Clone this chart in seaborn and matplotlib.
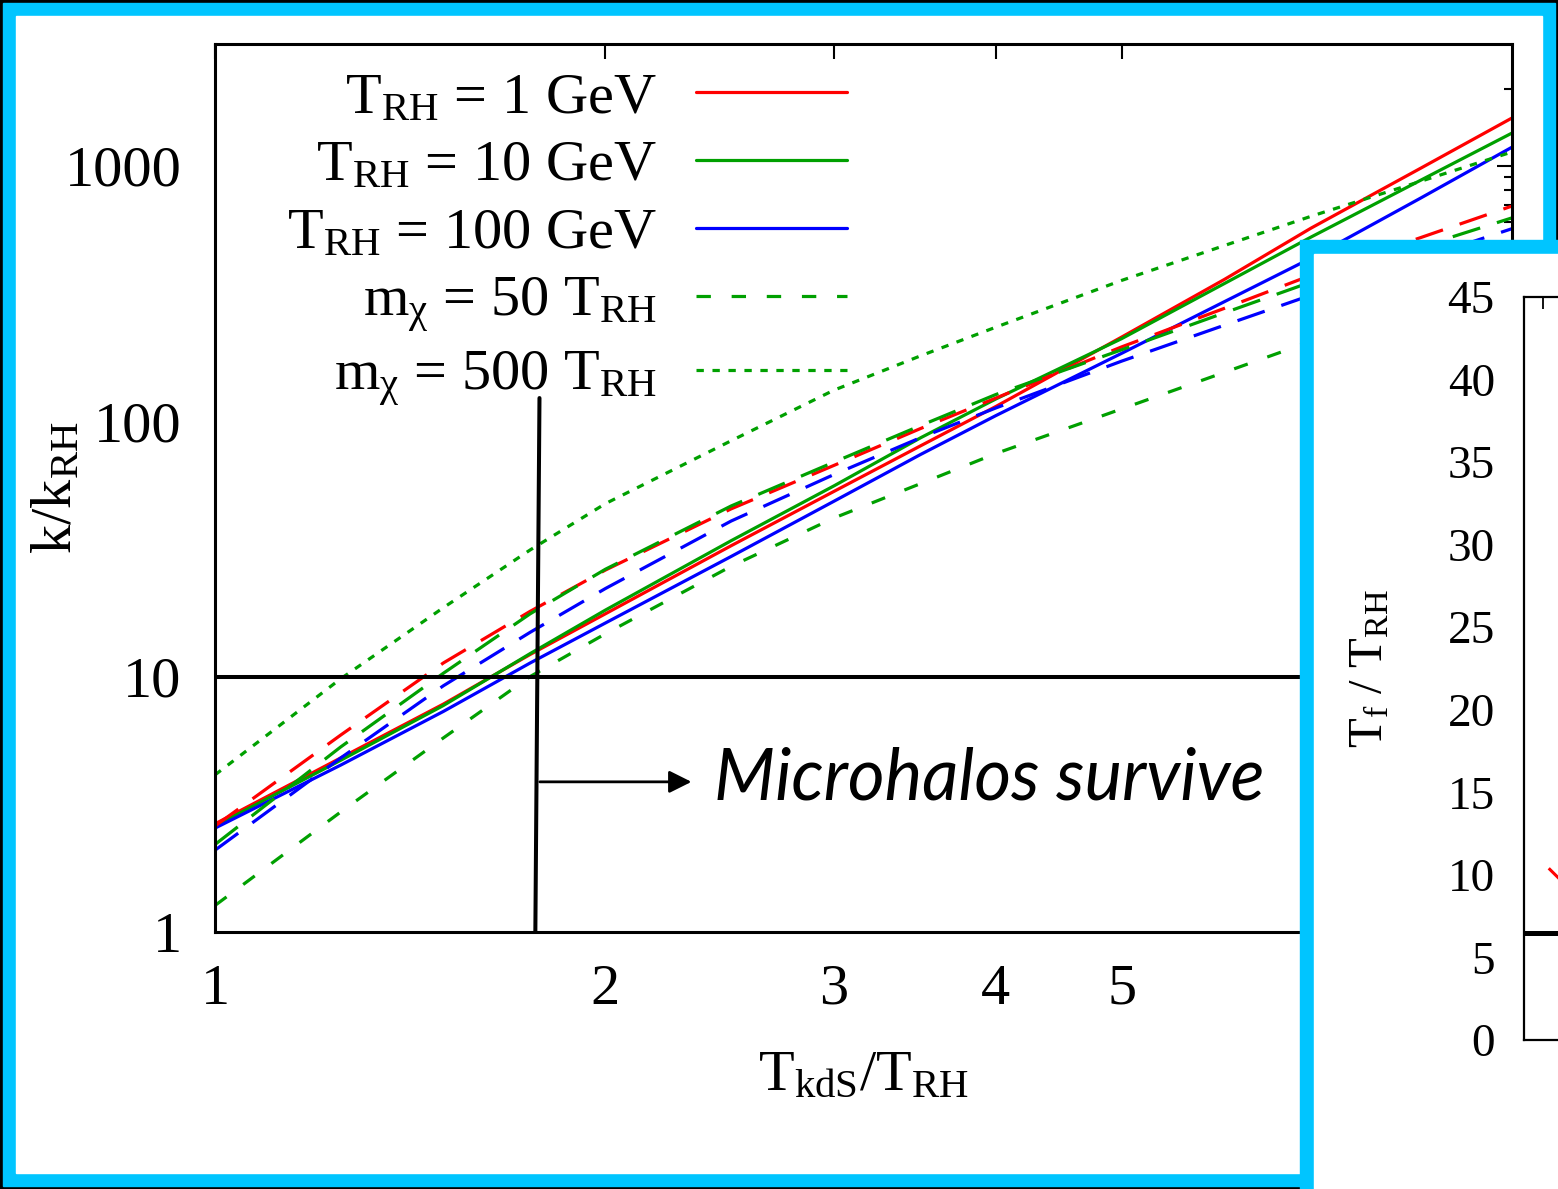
#!/usr/bin/env python3

"""Cut-off wavenumber k/k_RH versus kinetic decoupling temperature, slide style."""

import matplotlib

matplotlib.use("Agg")
import matplotlib.pyplot as plt
from matplotlib.patches import Rectangle
from matplotlib.ticker import FixedLocator, FuncFormatter, LogLocator, NullLocator
import seaborn as sns

# ---- data ---------------------------------------------------------------
T_kds = [1, 1.25, 1.5, 1.75, 2, 2.5, 3, 3.5, 4, 5, 6, 7, 8.5, 10]
k_1gev = [2.65, 4.8, 7.8, 12.2, 17.6, 32.5, 53, 80, 114, 213, 358, 569, 975, 1535]
k_10gev = [2.6, 4.7, 7.7, 12.3, 18.2, 34, 55.7, 86, 122, 210, 345, 525, 875, 1340]
k_100gev = [2.55, 4.5, 7.3, 11.3, 16.2, 29.5, 48.5, 74, 105, 184, 293, 434, 745, 1180]
k_1gev_dash = [2.6, 5.9, 11.3, 18.0, 26.1, 45.3, 67, 93.5, 123, 195, 276, 372, 522, 694]
k_10gev_dash = [2.2, 5.3, 10.3, 17.6, 26.3, 46.5, 69, 96, 127, 190, 265, 350, 480, 624]
k_100gev_dash = [2.09, 4.8, 9.2, 14.9, 22.1, 40.6, 61.7, 86.1, 112.5, 171.5, 237, 311, 431, 566]
k_m50 = [1.27, 2.95, 5.75, 10.0, 14.7, 27.0, 41.7, 56.9, 74.6, 111.5, 155, 205, 284, 366]
k_m500 = [4.12, 9.8, 18.6, 31.3, 47.5, 83.7, 132, 180, 233, 355, 486, 633, 867, 1130]

labels = [
    r"T$_{\mathrm{RH}}$ = 1 GeV",
    r"T$_{\mathrm{RH}}$ = 10 GeV",
    r"T$_{\mathrm{RH}}$ = 100 GeV",
    r"m$_{\mathrm{\chi}}$ = 50 T$_{\mathrm{RH}}$",
    r"m$_{\mathrm{\chi}}$ = 500 T$_{\mathrm{RH}}$",
]
x_ticks = [1, 2, 3, 4, 5]

k_survive = 10  # horizontal threshold
cut_T = [1.766, 1.779]  # vertical cut (slightly tilted in the original)
cut_k = [1, 123]
arrow_T = [1.78, 2.33]
arrow_k = 3.87

# inset (mostly cut off by the slide edge)
inset_x = [0.03, 0.1, 0.2]
inset_y = [10.4, 9.6, 8.6]
inset_level = 6.48
inset_yticks = [0, 5, 10, 15, 20, 25, 30, 35, 40, 45]

RED, GREEN, BLUE = "#ff0000", "#00a000", "#0000ff"
CYAN = "#00c5ff"
LONG = (0, (9, 5.5))
SHORT = (0, (4.5, 6.5))
DOT = (0, (2.3, 2.7))

sns.set_theme(style="white")
plt.rcParams["font.family"] = ["Liberation Serif", "DejaVu Serif"]
plt.rcParams["mathtext.fontset"] = "custom"
plt.rcParams["mathtext.rm"] = "Liberation Serif"
plt.rcParams["mathtext.it"] = "Liberation Serif:italic"
plt.rcParams["mathtext.bf"] = "Liberation Serif:bold"
plt.rcParams["text.color"] = "black"
plt.rcParams["axes.labelcolor"] = "black"
plt.rcParams["xtick.color"] = "black"
plt.rcParams["ytick.color"] = "black"

W, H = 1558, 1189
FS = 42


def main():
    fig = plt.figure(figsize=(W / 100, H / 100), dpi=100)
    fig.patch.set_facecolor("black")
    fig.add_artist(Rectangle((3 / W, 3 / H), 1 - 6 / W, 1 - 6 / H,
                             transform=fig.transFigure, color=CYAN, zorder=-3))
    fig.add_artist(Rectangle((16 / W, 16 / H), 1 - 32 / W, 1 - 32 / H,
                             transform=fig.transFigure, color="white", zorder=-2))

    ax = fig.add_axes([215 / W, 1 - 932 / H, (1512 - 215) / W, (932 - 44) / H])
    ax.set_facecolor("white")

    series = [
        (k_1gev, RED, "-", labels[0]),
        (k_10gev, GREEN, "-", labels[1]),
        (k_100gev, BLUE, "-", labels[2]),
        (k_1gev_dash, RED, LONG, None),
        (k_10gev_dash, GREEN, LONG, None),
        (k_100gev_dash, BLUE, LONG, None),
        (k_m50, GREEN, SHORT, labels[3]),
        (k_m500, GREEN, DOT, labels[4]),
    ]
    handles = {}
    for values, color, ls, label in series:
        sns.lineplot(x=T_kds, y=values, ax=ax, color=color, linestyle=ls,
                     linewidth=2.3, errorbar=None, legend=False)
        if label:
            handles[label] = ax.lines[-1]

    ax.set_xscale("log")
    ax.set_yscale("log")
    ax.set_xlim(1, 10)
    ax.set_ylim(1, 2990)

    ax.axhline(k_survive, color="black", lw=2.9)
    ax.plot(cut_T, cut_k, color="black", lw=2.9)
    ax.annotate("", xy=(arrow_T[1], arrow_k), xytext=(arrow_T[0], arrow_k),
                arrowprops=dict(arrowstyle="-|>", color="black", lw=2.0,
                                mutation_scale=34, shrinkA=0, shrinkB=0))
    ax.text(2.426, 3.29, "Microhalos survive", fontsize=51,
            family=["Lato", "DejaVu Sans"], style="italic", ha="left", va="baseline")

    ax.xaxis.set_major_locator(FixedLocator(x_ticks))
    ax.xaxis.set_minor_locator(NullLocator())
    ax.yaxis.set_major_locator(LogLocator(base=10))
    ax.yaxis.set_minor_locator(LogLocator(base=10, subs=range(2, 10)))
    fmt = FuncFormatter(lambda v, p: f"{v:g}")
    ax.xaxis.set_major_formatter(fmt)
    ax.yaxis.set_major_formatter(fmt)
    ax.tick_params(which="both", direction="in", top=True, right=True,
                   width=1.5, labelsize=FS)
    ax.tick_params(which="major", length=10.5)
    ax.tick_params(which="minor", length=6)
    ax.tick_params(axis="x", pad=23)
    ax.tick_params(axis="y", pad=24)
    for sp in ax.spines.values():
        sp.set_linewidth(2.2)
        sp.set_color("black")

    ax.set_xlabel(r"T$_{\mathrm{kdS}}$/T$_{\mathrm{RH}}$", fontsize=FS)
    ax.set_ylabel(r"k/k$_{\mathrm{RH}}$", fontsize=FS)
    ax.xaxis.set_label_coords(0.5, -0.133)
    ax.yaxis.set_label_coords(-0.102, 0.5)

    ax.legend([handles[l] for l in labels], labels, loc="upper right",
              bbox_to_anchor=(847 / W, 1 - 72 / H),
              bbox_transform=fig.transFigure, frameon=False, fontsize=FS,
              markerfirst=False, handlelength=2.59, handletextpad=0.67,
              labelspacing=0.255, borderpad=0, borderaxespad=0)

    # inset panel covering the lower right corner
    fig.add_artist(Rectangle((1300 / W, 0), 1, (H - 240) / H,
                             transform=fig.transFigure, color=CYAN, zorder=5))
    fig.add_artist(Rectangle((1314 / W, 0), 1, (H - 254) / H,
                             transform=fig.transFigure, color="white", zorder=6))
    ins = fig.add_axes([1524 / W, 1 - 1040 / H, 780 / W, (1040 - 297) / H], zorder=7)
    ins.set_facecolor("white")
    sns.lineplot(x=inset_x, y=inset_y, ax=ins, color=RED, linestyle=(0, (5, 3)),
                 linewidth=2.2, errorbar=None, legend=False)
    ins.axhline(inset_level, color="black", lw=3.6)
    ins.set_xlim(-0.1, 4)
    ins.set_ylim(0, 45)
    ins.set_xticks([0, 1, 2, 3])
    ins.set_yticks(inset_yticks)
    ins.tick_params(which="both", direction="in", top=True, right=True,
                    width=1.3, length=8.5, labelsize=34, labelbottom=False, pad=21)
    for sp in ins.spines.values():
        sp.set_linewidth(1.6)
        sp.set_color("black")
    ins.set_ylabel(r"T$_{\mathrm{f}}$ / T$_{\mathrm{RH}}$", fontsize=35)
    ins.yaxis.set_label_coords((1392 - 1524) / 780, 0.5)

    fig.savefig("out.png", dpi=100, facecolor=fig.get_facecolor())
    plt.close(fig)


if __name__ == "__main__":
    main()
